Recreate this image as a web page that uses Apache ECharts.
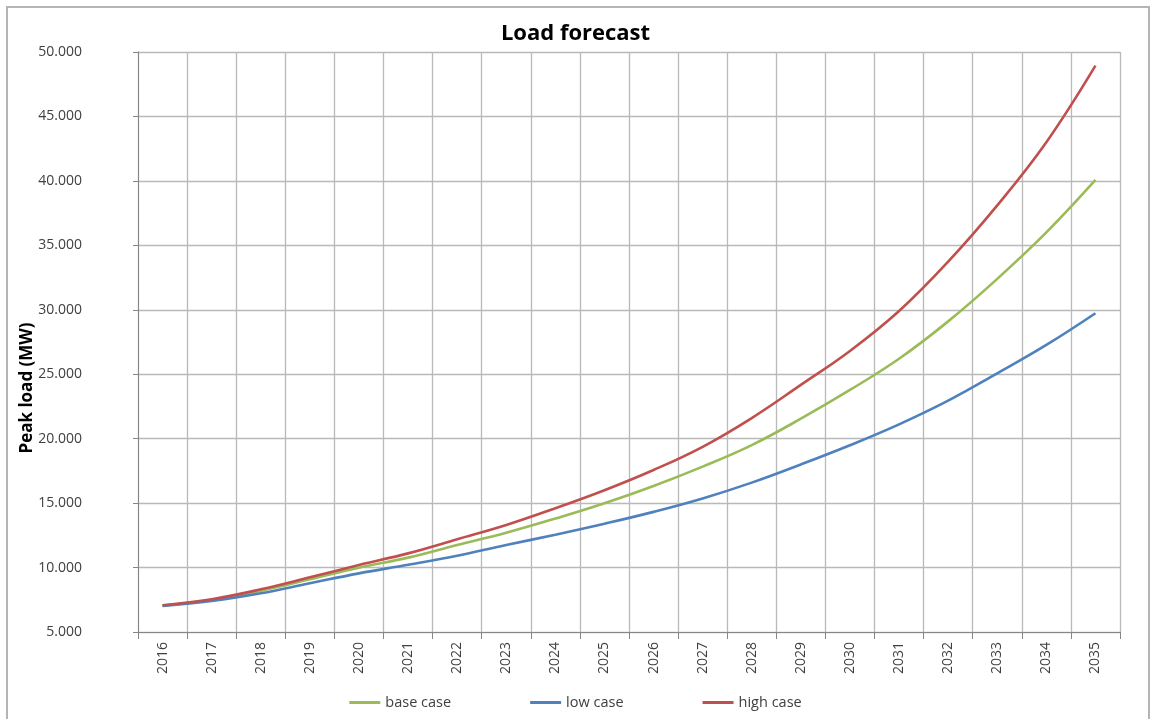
<!DOCTYPE html>
<html lang="en" style="height: 100%">
<head>
  <meta charset="utf-8">
</head>
<body style="height: 100%; margin: 0; background: #fff">
  <div id="container" style="width: 1151px; height: 719px"></div>

  <script type="text/javascript" src="https://fastly.jsdelivr.net/npm/echarts@6/dist/echarts.min.js"></script>
  <script type="text/javascript">
    // data (MW)
    var years = ['2016', '2017', '2018', '2019', '2020', '2021', '2022', '2023', '2024', '2025',
                 '2026', '2027', '2028', '2029', '2030', '2031', '2032', '2033', '2034', '2035'];
    var baseCase = [7050, 7480, 8200, 9090, 9990, 10770, 11750, 12700, 13800, 14990,
                    16330, 17830, 19500, 21550, 23780, 26200, 29100, 32400, 36000, 40070];
    var lowCase = [7020, 7400, 8000, 8780, 9550, 10220, 10920, 11750, 12550, 13400,
                   14320, 15360, 16590, 18000, 19490, 21110, 22950, 25070, 27270, 29730];
    var highCase = [7080, 7540, 8310, 9240, 10200, 11100, 12190, 13300, 14600, 16000,
                    17570, 19370, 21600, 24170, 26800, 29900, 33730, 38100, 43000, 48940];

    var dom = document.getElementById('container');
    var myChart = echarts.init(dom, null, { renderer: 'canvas' });
    var font = '"Open Sans", "Liberation Sans", sans-serif';

    function thousands(v) {
      // 50000 -> 50.000
      return String(v).replace(/\B(?=(\d{3})+(?!\d))/g, '.');
    }

    var option = {
      animation: false,
      backgroundColor: '#fff',
      title: {
        text: 'Load forecast',
        left: 'center',
        top: 18,
        textStyle: { fontFamily: font, fontSize: 22, fontWeight: 'bold', color: '#000' }
      },
      graphic: [
        {
          // chart frame, open at the bottom like the cropped original
          type: 'rect',
          shape: { x: 7, y: 7, width: 1142, height: 720 },
          style: { fill: 'none', stroke: '#b4b4b4', lineWidth: 2 },
          z: -1
        },
        {
          type: 'text',
          x: 27,
          y: 388,
          rotation: Math.PI / 2,
          style: {
            text: 'Peak load (MW)',
            fontFamily: font,
            fontSize: 17,
            fontWeight: 'bold',
            fill: '#000',
            textAlign: 'center',
            textVerticalAlign: 'middle'
          }
        }
      ],
      legend: {
        bottom: 4,
        left: 'center',
        itemWidth: 31,
        itemHeight: 3,
        itemGap: 79,
        icon: 'rect',
        textStyle: { fontFamily: font, fontSize: 14.5, color: '#404040' },
        data: ['base case', 'low case', 'high case']
      },
      grid: {
        left: 138,
        right: 31,
        top: 52,
        bottom: 87
      },
      xAxis: {
        type: 'category',
        data: years,
        axisLine: { lineStyle: { color: '#868686' } },
        axisTick: { show: true, length: 7, lineStyle: { color: '#868686' } },
        splitLine: { show: true, lineStyle: { color: '#b9b9b9', width: 1.3 } },
        axisLabel: {
          rotate: 90,
          margin: 10,
          fontFamily: font,
          fontSize: 14,
          color: '#404040'
        }
      },
      yAxis: {
        type: 'value',
        min: 5000,
        max: 50000,
        interval: 5000,
        axisLine: { show: true, lineStyle: { color: '#868686' } },
        axisTick: { show: true, length: 5, lineStyle: { color: '#868686' } },
        splitLine: { show: true, lineStyle: { color: '#b9b9b9', width: 1.3 } },
        axisLabel: {
          margin: 56,
          fontFamily: font,
          fontSize: 14,
          color: '#404040',
          formatter: thousands
        }
      },
      series: [
        {
          name: 'base case',
          type: 'line',
          data: baseCase,
          symbol: 'none',
          smooth: 0.4,
          itemStyle: { color: '#9bbb59' },
          lineStyle: { color: '#9bbb59', width: 2.6 }
        },
        {
          name: 'low case',
          type: 'line',
          data: lowCase,
          symbol: 'none',
          smooth: 0.4,
          itemStyle: { color: '#4f81bd' },
          lineStyle: { color: '#4f81bd', width: 2.6 }
        },
        {
          name: 'high case',
          type: 'line',
          data: highCase,
          symbol: 'none',
          smooth: 0.4,
          itemStyle: { color: '#c0504d' },
          lineStyle: { color: '#c0504d', width: 2.6 }
        }
      ]
    };

    myChart.setOption(option);
    window.addEventListener('resize', myChart.resize);
  </script>
</body>
</html>
